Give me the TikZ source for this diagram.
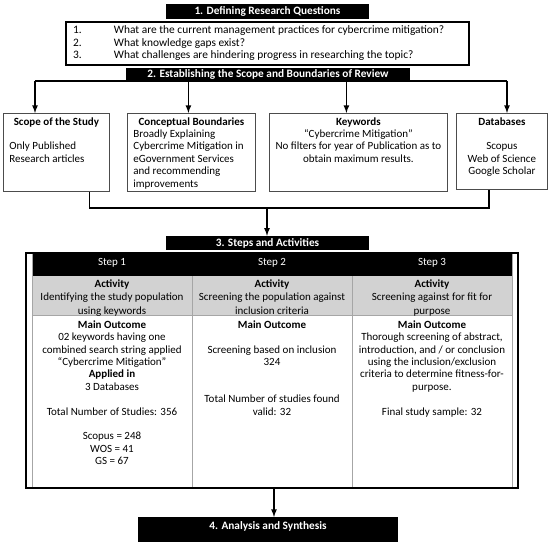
\documentclass[tikz,border=0pt]{standalone}
\usepackage{fontspec}
\setmainfont{Carlito}
\tikzset{
  titlebox/.style={fill=black, text=white, font=\fontsize{11.3}{13}\selectfont\bfseries, inner sep=0pt},
  topbox/.style={draw=black!70, line width=0.8pt, anchor=north west, inner xsep=6pt, inner ysep=4pt},
  cell/.style={anchor=north, align=center, inner sep=0pt},
  conn/.style={-latex, line width=1.6pt},
}
\begin{document}
\begin{tikzpicture}[x=1pt, y=-1pt, font=\fontsize{11}{12.4}\selectfont]
	\useasboundingbox (0,0) rectangle (550,542);
	% research questions
	\node[titlebox, minimum width=203pt, minimum height=15pt] (title1) at (267.5,11.5) {1. Defining Research Questions};
	\node[draw, line width=1.2pt, minimum width=403pt, minimum height=43pt, inner sep=0pt,
		font=\fontsize{11.4}{12.5}\selectfont] (quest) at (267.5,43.5)
		{\begin{tabular}{@{}p{41pt}@{}p{348pt}@{}}
		1. & What are the current management practices for cybercrime mitigation?\\
		2. & What knowledge gaps exist?\\
		3. & What challenges are hindering progress in researching the topic?
		\end{tabular}};
	\node[titlebox, minimum width=284pt, minimum height=13pt] (title2) at (268,74.5) {2. Establishing the Scope and Boundaries of Review};

	% scope and boundaries
	\node[topbox] (scope) at (3,113) {\parbox[c][70pt][t]{94pt}{\centering\textbf{Scope of the Study}\par\vspace{12.4pt}\raggedright
		Only Published\\Research articles}};
	\node[topbox] (concept) at (127,113) {\parbox[c][70pt][t]{116pt}{\centering\textbf{Conceptual Boundaries}\par\raggedright
		Broadly Explaining\\Cybercrime Mitigation in\\eGovernment Services\\and recommending\\improvements}};
	\node[topbox] (keyw) at (269,113) {\parbox[c][70pt][t]{166pt}{\centering\textbf{Keywords}\\
		``Cybercrime Mitigation''\\No filters for year of Publication as to\\obtain maximum results.}};
	\node[topbox] (dbase) at (456,113) {\parbox[c][68pt][t]{79pt}{\centering\textbf{Databases}\par\vspace{12.4pt}
		Scopus\\Web of Science\\Google Scholar}};

	\coordinate (busL) at (35,81);
	\coordinate (busR) at (507,81);
	\draw[line width=1.6pt] (busL) -- (busR);
	\draw[conn] (busL) -- (busL |- scope.north);
	\draw[conn] ([xshift=-3pt]concept.north |- busL) -- ([xshift=-3pt]concept.north);
	\draw[conn] ([xshift=-12pt]keyw.north |- busL) -- ([xshift=-12pt]keyw.north);
	\draw[conn] (busR) -- (busR |- dbase.north);

	\coordinate (join) at (267,208);
	\draw[line width=1.6pt] ([xshift=33pt]scope.south) |- (join) -| ([xshift=-13pt]dbase.south);
	\node[titlebox, minimum width=203pt, minimum height=14pt] (title3) at (267.5,243) {3. Steps and Activities};
	\draw[conn] (join) -- (join |- title3.north);

	% steps table
	\fill[gray!35] (32,276) rectangle (512,315);
	\fill (32,253) rectangle (512,276);
	\draw[gray!70, line width=0.6pt] (32,253) -- (32,488) (512,253) -- (512,488)
		(192,276) -- (192,488) (352,276) -- (352,488) (32,315) -- (512,315);
	\node[draw, line width=1.6pt, minimum width=492pt, minimum height=235pt, inner sep=0pt] (steps) at (272,370.5) {};

	\node[text=white] (step1) at (112,263) {Step 1};
	\node[text=white] (step2) at (272,263) {Step 2};
	\node[text=white] (step3) at (432,263) {Step 3};

	\node[cell, font=\fontsize{11}{13.4}\selectfont] (act1) at (112,279.6) {\textbf{Activity}\\Identifying the study population\\using keywords};
	\node[cell, font=\fontsize{11}{13.4}\selectfont] (act2) at (272,279.6) {\textbf{Activity}\\Screening the population against\\inclusion criteria};
	\node[cell, font=\fontsize{11}{13.4}\selectfont] (act3) at (432,279.6) {\textbf{Activity}\\Screening against for fit for\\purpose};

	\node[cell] (out1) at (112,320.4) {\textbf{Main Outcome}\\02 keywords having one\\combined search string applied\\
		``Cybercrime Mitigation''\\\textbf{Applied in}\\3 Databases\\[12.4pt]Total Number of Studies: 356\\[12.4pt]
		Scopus = 248\\WOS = 41\\GS = 67};
	\node[cell] (out2) at (272,320.4) {\textbf{Main Outcome}\\[12.4pt]Screening based on inclusion\\324\\[24.8pt]
		Total Number of studies found\\valid: 32};
	\node[cell] (out3) at (432,320.4) {\textbf{Main Outcome}\\Thorough screening of abstract,\\introduction, and / or conclusion\\
		using the inclusion/exclusion\\criteria to determine fitness-for-\\purpose.\\[12.4pt]Final study sample: 32};

	% analysis
	\node[titlebox, minimum width=260pt, anchor=north, inner ysep=4pt, text depth=9pt] (title4) at (268,517) {4. Analysis and Synthesis};
	\draw[conn] ([xshift=2pt]steps.south) -- ([xshift=2pt]steps.south |- title4.north);
\end{tikzpicture}
\end{document}
